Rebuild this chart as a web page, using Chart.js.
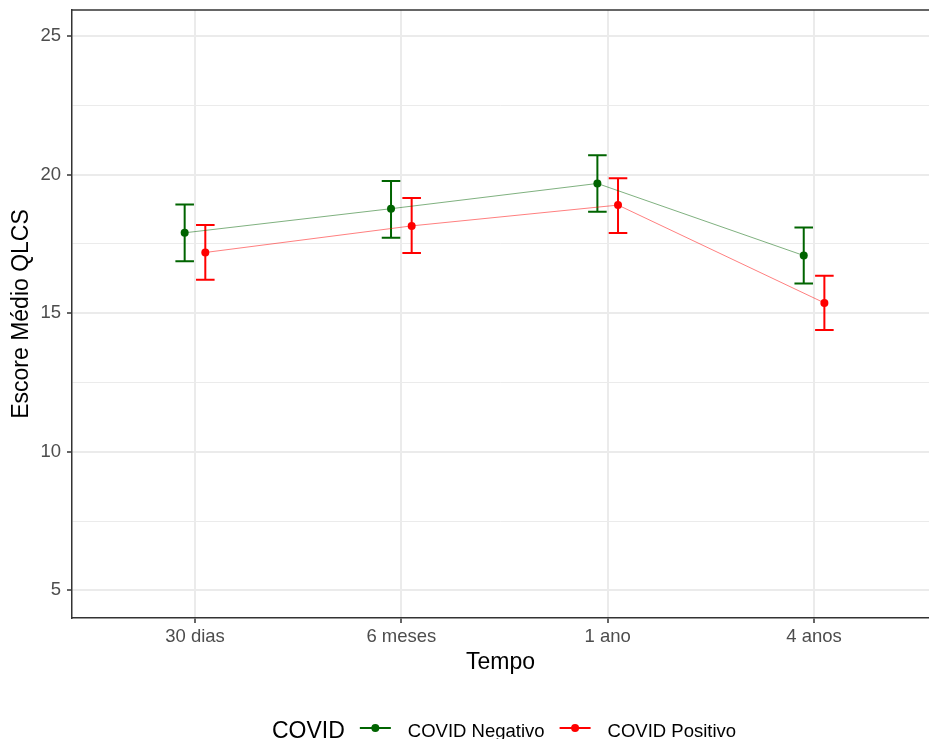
<!DOCTYPE html>
<html>
<head>
<meta charset="utf-8">
<script src="https://cdn.jsdelivr.net/npm/chart.js@4"></script>
<style>
  html, body { margin: 0; padding: 0; background: #fff; overflow: hidden; }
  #wrap { width: 929px; height: 739px; }
</style>
</head>
<body>
<div id="wrap"><canvas id="chart"></canvas></div>
<script>
// categories and values
const tempos = ['30 dias', '6 meses', '1 ano', '4 anos'];
const yTicks = [5, 7.5, 10, 12.5, 15, 17.5, 20, 22.5, 25];

const negMedia = [17.90, 18.77, 19.68, 17.08];
const negInf = [16.87, 17.72, 18.66, 16.07];
const negSup = [18.92, 19.77, 20.70, 18.09];

const posMedia = [17.19, 18.15, 18.90, 15.37];
const posInf = [16.21, 17.17, 17.89, 14.39];
const posSup = [18.18, 19.16, 19.87, 16.35];

const VERDE = '#006400';
const VERMELHO = '#FF0000';
const FONTE = "'Liberation Sans', Arial, sans-serif";
const dodge = 0.05;

const pontos = (vals, desl) => vals.map((v, i) => ({ x: i + 1 + desl, y: v }));

const series = [
  { label: 'COVID Negativo', cor: VERDE, linha: 'rgba(0,100,0,0.5)', media: negMedia, inf: negInf, sup: negSup, desl: -dodge },
  { label: 'COVID Positivo', cor: VERMELHO, linha: 'rgba(255,0,0,0.5)', media: posMedia, inf: posInf, sup: posSup, desl: dodge }
];

// error bars, drawn under the points
const barrasErro = {
  id: 'barrasErro',
  beforeDatasetsDraw(chart) {
    const { ctx, scales: { x, y } } = chart;
    ctx.save();
    ctx.lineWidth = 2;
    series.forEach(s => {
      ctx.strokeStyle = s.cor;
      s.media.forEach((_, i) => {
        const cx = x.getPixelForValue(i + 1 + s.desl);
        const x0 = x.getPixelForValue(i + 1 + s.desl - 0.045);
        const x1 = x.getPixelForValue(i + 1 + s.desl + 0.045);
        const yTop = y.getPixelForValue(s.sup[i]);
        const yBot = y.getPixelForValue(s.inf[i]);
        ctx.beginPath();
        ctx.moveTo(cx, yTop); ctx.lineTo(cx, yBot);
        ctx.moveTo(x0, yTop); ctx.lineTo(x1, yTop);
        ctx.moveTo(x0, yBot); ctx.lineTo(x1, yBot);
        ctx.stroke();
      });
    });
    ctx.restore();
  }
};

// panel border top + legend at the bottom (ggplot style)
const moldura = {
  id: 'moldura',
  afterDraw(chart) {
    const { ctx, chartArea: a } = chart;
    ctx.save();
    ctx.strokeStyle = '#333333';
    ctx.lineWidth = 1.5;
    ctx.beginPath();
    ctx.moveTo(a.left, a.top);
    ctx.lineTo(a.right, a.top);
    ctx.stroke();

    let xPos = 272;
    const yMeio = 728;
    ctx.fillStyle = '#000';
    ctx.textBaseline = 'alphabetic';
    ctx.font = '23px ' + FONTE;
    ctx.fillText('COVID', xPos, 738);
    xPos += ctx.measureText('COVID').width + 15;

    ctx.font = '18.5px ' + FONTE;
    series.forEach(s => {
      ctx.strokeStyle = s.cor;
      ctx.lineWidth = 2;
      ctx.beginPath();
      ctx.moveTo(xPos, yMeio);
      ctx.lineTo(xPos + 31, yMeio);
      ctx.stroke();
      ctx.fillStyle = s.cor;
      ctx.beginPath();
      ctx.arc(xPos + 15.5, yMeio, 4, 0, Math.PI * 2);
      ctx.fill();
      xPos += 31 + 17;
      ctx.fillStyle = '#000';
      ctx.fillText(s.label, xPos, 736.5);
      xPos += ctx.measureText(s.label).width + 15;
    });
    ctx.restore();
  }
};

new Chart(document.getElementById('chart'), {
  type: 'line',
  data: {
    datasets: series.map(s => ({
      label: s.label,
      data: pontos(s.media, s.desl),
      borderColor: s.linha,
      borderWidth: 1,
      pointRadius: 4,
      pointBackgroundColor: s.cor,
      pointBorderColor: s.cor,
      pointBorderWidth: 0,
      tension: 0
    }))
  },
  options: {
    responsive: true,
    maintainAspectRatio: false,
    animation: false,
    layout: { autoPadding: false, padding: { top: 10, right: 0, bottom: 63, left: 0 } },
    plugins: {
      legend: { display: false },
      tooltip: { enabled: false }
    },
    scales: {
      x: {
        type: 'linear',
        min: 0.404,
        max: 4.557,
        afterBuildTicks: sc => { sc.ticks = tempos.map((_, i) => ({ value: i + 1 })); },
        afterFit: sc => { sc.height = 58; sc.paddingLeft = 0; sc.paddingRight = 0; },
        ticks: {
          callback: v => tempos[v - 1],
          color: '#4D4D4D',
          font: { family: FONTE, size: 18.5 },
          padding: 3,
          maxRotation: 0
        },
        grid: { color: '#EBEBEB', lineWidth: 2, tickColor: '#333333', tickLength: 5, tickWidth: 1.5 },
        border: { color: '#333333', width: 1.5 },
        title: {
          display: true,
          text: 'Tempo',
          color: '#000',
          font: { family: FONTE, size: 23 },
          padding: { top: 0, bottom: 0 }
        }
      },
      y: {
        min: 4,
        max: 25.94,
        afterBuildTicks: sc => { sc.ticks = yTicks.map(v => ({ value: v })); },
        afterFit: sc => { sc.width = 72; sc.paddingTop = 0; sc.paddingBottom = 0; },
        ticks: {
          callback: v => (v % 5 === 0 ? String(v) : ''),
          color: '#4D4D4D',
          font: { family: FONTE, size: 18.5 },
          padding: 6
        },
        grid: {
          color: '#EBEBEB',
          lineWidth: c => (c.tick && c.tick.value % 5 === 0 ? 2 : 1),
          tickColor: c => (c.tick && c.tick.value % 5 === 0 ? '#333333' : 'rgba(0,0,0,0)'),
          tickLength: 5,
          tickWidth: 1.5
        },
        border: { color: '#333333', width: 1.5 },
        title: {
          display: true,
          text: 'Escore Médio QLCS',
          color: '#000',
          font: { family: FONTE, size: 23 },
          padding: { top: 8, bottom: 0 }
        }
      }
    }
  },
  plugins: [barrasErro, moldura]
});
</script>
</body>
</html>
